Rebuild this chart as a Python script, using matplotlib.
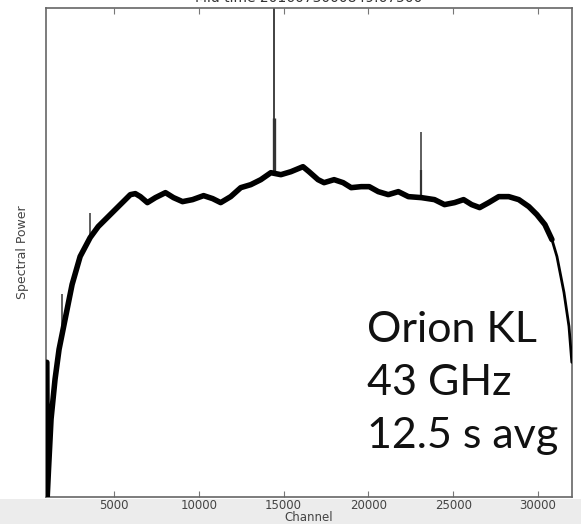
import matplotlib
matplotlib.use("Agg")
import matplotlib.pyplot as plt
import numpy as np
from matplotlib.patches import Rectangle

# Averaged spectrum (arbitrary power units) sampled along the band
channel = [1047, 1071, 1148, 1296, 1532, 1769, 2124, 2538, 3011, 3603, 4076,
           4609, 5200, 5674, 5969, 6265, 6561, 6975, 7449, 8040, 8513, 9046,
           9637, 10288, 10821, 11294, 11885, 12477, 13069, 13660, 14252,
           14843, 15435, 16145, 16500, 17032, 17387, 17979, 18511, 18985,
           19576, 20050, 20582, 21174, 21765, 22357, 23126, 23895, 24487,
           25078, 25611, 26084, 26557, 27090, 27681, 28273, 28865, 29456,
           29929, 30403, 30817, 31113, 31527, 31822, 31990]
power = [1.35, 0.00, 0.28, 0.78, 1.18, 1.48, 1.78, 2.13, 2.41, 2.60, 2.71,
         2.80, 2.90, 2.98, 3.03, 3.04, 3.01, 2.95, 3.00, 3.05, 3.00, 2.96,
         2.98, 3.02, 2.99, 2.95, 3.01, 3.10, 3.13, 3.18, 3.25,
         3.23, 3.26, 3.31, 3.26, 3.18, 3.15, 3.18, 3.15, 3.10,
         3.11, 3.11, 3.06, 3.03, 3.06, 3.01, 3.00, 2.98, 2.93,
         2.95, 2.98, 2.93, 2.90, 2.95, 3.01, 3.01, 2.98, 2.91,
         2.83, 2.73, 2.58, 2.41, 2.05, 1.71, 1.35]

# Narrow spectral lines: channel, base level, peak level, drawn width
line_channel = [14430, 14430, 23126, 23126, 3603, 1916]
line_base = [3.25, 3.25, 3.00, 3.00, 2.60, 1.70]
line_peak = [5.20, 3.80, 3.66, 3.28, 2.85, 2.03]
line_width = [1.3, 2.4, 1.1, 1.6, 1.1, 1.1]

title = "Mid time 2016073000849.67500"
note_lines = ["Orion KL", "43 GHz", "12.5 s avg"]

fig = plt.figure(figsize=(5.81, 5.24), dpi=100)
fig.patch.set_facecolor("white")
fig.patches.append(Rectangle((0, 0), 1, 0.048, transform=fig.transFigure,
                             facecolor="#ececec", edgecolor="none", zorder=-10))

ax = fig.add_axes([0.0792, 0.0515, 0.9053, 0.9332])
ax.set_facecolor("white")

ch = np.array(channel)
pw = np.array(power)
ax.plot(ch, pw, color="black", lw=2.0, solid_joinstyle="round",
        solid_capstyle="round", zorder=3)
mask = ch <= 30900
ax.plot(ch[mask], pw[mask], color="black", lw=4.0, solid_joinstyle="round",
        solid_capstyle="round", zorder=3)

for c, b, p, w in zip(line_channel, line_base, line_peak, line_width):
    ax.vlines(c, b, p, colors="#333333", lw=w, zorder=2)

ax.set_xlim(1000, 32000)
ax.set_ylim(0, 4.9)
ax.set_xticks([5000, 10000, 15000, 20000, 25000, 30000])
ax.set_yticks([])
ax.tick_params(axis="x", direction="in", top=True, bottom=True, length=4,
               color="#777777", labelsize=8.5, labelcolor="#444444", pad=1.5)
for s in ax.spines.values():
    s.set_color("#666666")
    s.set_linewidth(1.2)

ax.set_xlabel("Channel", fontsize=8.5, color="#444444", labelpad=-1)
ax.set_ylabel("Spectral Power", fontsize=9, color="#444444", labelpad=12)
ax.set_title(title, fontsize=10, color="#333333", pad=4)

for i, txt in enumerate(note_lines):
    fig.text(367 / 581, (524 - 342 - 53 * i) / 524, txt, family="Lato",
             fontsize=31, color="#111111", va="baseline", ha="left")

fig.savefig("out.png", dpi=100)
